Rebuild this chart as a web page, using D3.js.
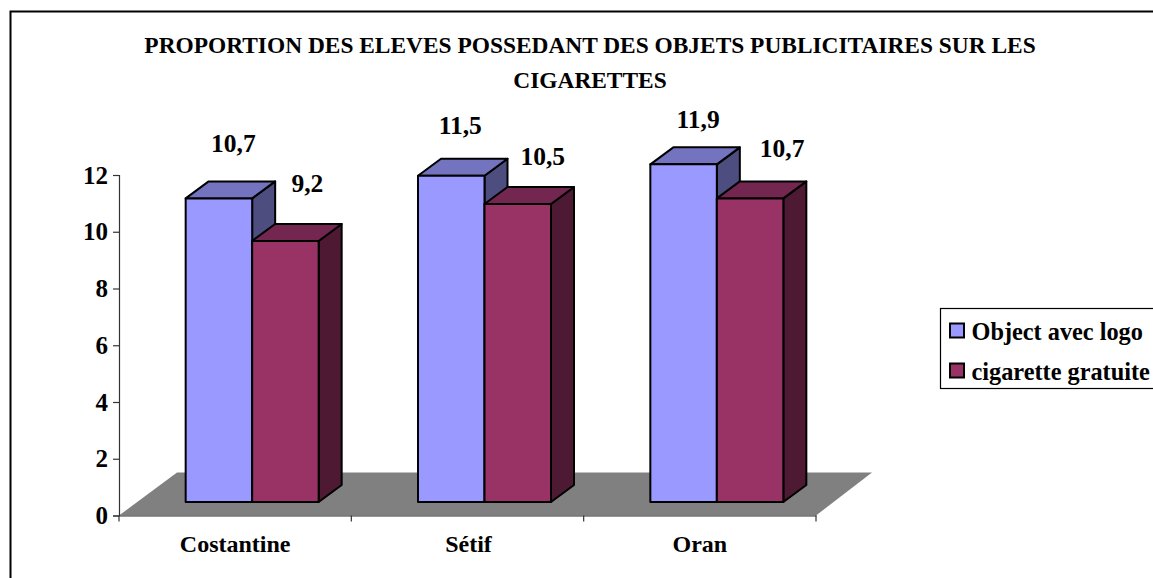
<!DOCTYPE html>
<html>
<head>
    <meta charset="utf-8">
    <title>Proportion des eleves</title>
    <script src="https://d3js.org/d3.v7.min.js"></script>
    <style>
        html, body { margin: 0; padding: 0; background: #fff; overflow: hidden; }
        text { font-family: "Liberation Serif", serif; font-weight: bold; fill: #000; }
    </style>
</head>
<body>
<script>
const titleLines = ['PROPORTION DES ELEVES POSSEDANT DES OBJETS PUBLICITAIRES SUR LES', 'CIGARETTES'];
const categories = ['Costantine', 'Sétif', 'Oran'];
const seriesNames = ['Object avec logo', 'cigarette gratuite'];
const objectAvecLogo = [10.7, 11.5, 11.9];
const cigaretteGratuite = [9.2, 10.5, 10.7];
const valueTicks = [0, 2, 4, 6, 8, 10, 12];

// the data labels were dragged by hand in the original, so each one has its own nudge
const labelNudge = [
    [[14.5, -46], [22, -49]],
    [[9, -42], [25, -39]],
    [[14.5, -36], [32, -41]]
];
const catLabelNudge = [0, 1, 0];

const width = 1153, height = 578;
const axisLeft = 119, axisRight = 816, axisBottom = 515.5, axisTop = 175;
const floorDx = 58, floorDy = 43;      // depth of the floor
const barShiftX = 17, barShiftY = 13.5; // bars stand this far back on the floor
const depthX = 23, depthY = 17;        // depth of a bar

const colors = [
    { front: '#9999ff', top: '#7373bf', side: '#4d4d80' },
    { front: '#993366', top: '#732650', side: '#4d1933' }
];

const svg = d3.select('body')
    .append('svg')
    .attr('width', width)
    .attr('height', height)
    .style('display', 'block');

// outer frame, it runs off the page on the right and bottom
svg.append('path')
    .attr('d', `M10.5,${height + 5}V11.5H${width + 5}`)
    .attr('fill', 'none')
    .attr('stroke', '#000')
    .attr('stroke-width', 2);

const title = svg.append('text')
    .attr('text-anchor', 'middle')
    .style('font-size', '23.4px');
titleLines.forEach((line, i) => {
    title.append('tspan')
        .attr('x', 590)
        .attr('y', 53 + i * 35)
        .text(line);
});

const xScale = d3.scaleBand()
    .domain(categories)
    .range([axisLeft, axisRight]);

const yScale = d3.scaleLinear()
    .domain([0, 12])
    .range([axisBottom, axisTop]);

const seriesScale = d3.scaleBand()
    .domain(seriesNames)
    .range([0, 133]);

// floor
svg.append('path')
    .attr('d', `M${axisLeft},${axisBottom}L${axisLeft + floorDx},${axisBottom - floorDy}H${axisRight + floorDx - 2}L${axisRight},${axisBottom}Z`)
    .attr('fill', '#808080');

const yAxis = d3.axisLeft(yScale)
    .tickValues(valueTicks)
    .tickSize(6)
    .tickPadding(5);

const yG = svg.append('g')
    .attr('transform', `translate(${axisLeft},0)`)
    .call(yAxis);
yG.selectAll('path, line').attr('stroke', '#333').attr('stroke-width', 1.2);
yG.selectAll('text').style('font-size', '25px');
yG.attr('font-family', null);

const xAxis = d3.axisBottom(xScale).tickSize(0).tickPadding(19.5);
const xG = svg.append('g')
    .attr('transform', `translate(0,${axisBottom})`)
    .call(xAxis);
xG.select('.domain').attr('stroke', '#333').attr('stroke-width', 1.2);
xG.selectAll('text')
    .style('font-size', '24px')
    .attr('dx', (d, i) => catLabelNudge[i]);
xG.attr('font-family', null);

// band edge ticks under the axis
svg.selectAll('.band-tick')
    .data([...categories.map(c => xScale(c)), axisRight])
    .enter()
    .append('line')
    .attr('class', 'band-tick')
    .attr('x1', d => d)
    .attr('x2', d => d)
    .attr('y1', axisBottom)
    .attr('y2', axisBottom + 6)
    .attr('stroke', '#333')
    .attr('stroke-width', 1.2);

const seriesValues = [objectAvecLogo, cigaretteGratuite];
const baseY = axisBottom - barShiftY;

function barFrame(c, i) {
    const bw = seriesScale.bandwidth();
    const groupLeft = xScale(c) + (xScale.bandwidth() - 133) / 2 + barShiftX;
    const x0 = groupLeft + seriesScale(seriesNames[i]);
    return { x0, x1: x0 + bw, top: yScale(seriesValues[i][categories.indexOf(c)]) - barShiftY };
}

// draw per category, left bar then right bar, so the overlaps come out right
categories.forEach((c, ci) => {
    seriesNames.forEach((name, si) => {
        const f = barFrame(c, si);
        const g = svg.append('g')
            .attr('stroke', '#000')
            .attr('stroke-width', 2)
            .attr('stroke-linejoin', 'round');
        g.append('path')
            .attr('d', `M${f.x1},${f.top}L${f.x1 + depthX},${f.top - depthY}V${baseY - depthY}L${f.x1},${baseY}Z`)
            .attr('fill', colors[si].side);
        g.append('path')
            .attr('d', `M${f.x0},${f.top}L${f.x0 + depthX},${f.top - depthY}H${f.x1 + depthX}L${f.x1},${f.top}Z`)
            .attr('fill', colors[si].top);
        g.append('rect')
            .attr('x', f.x0)
            .attr('y', f.top)
            .attr('width', f.x1 - f.x0)
            .attr('height', baseY - f.top)
            .attr('fill', colors[si].front);
    });
});

// data labels, comma decimal as in the original
categories.forEach((c, ci) => {
    seriesNames.forEach((name, si) => {
        const f = barFrame(c, si);
        const nudge = labelNudge[ci][si];
        svg.append('text')
            .attr('x', (f.x0 + f.x1) / 2 + nudge[0])
            .attr('y', f.top + nudge[1])
            .attr('text-anchor', 'middle')
            .style('font-size', '25.5px')
            .text(String(seriesValues[si][ci].toFixed(1)).replace('.', ','));
    });
});

// legend
const legend = svg.append('g').attr('transform', 'translate(940.5,308.5)');
legend.append('rect')
    .attr('width', 240)
    .attr('height', 80)
    .attr('fill', '#fff')
    .attr('stroke', '#000')
    .attr('stroke-width', 1.2);
seriesNames.forEach((name, i) => {
    legend.append('rect')
        .attr('x', 9.5)
        .attr('y', 15 + i * 40)
        .attr('width', 14)
        .attr('height', 14)
        .attr('fill', colors[i].front)
        .attr('stroke', '#000')
        .attr('stroke-width', 2);
    legend.append('text')
        .attr('x', 31)
        .attr('y', 31 + i * 40)
        .style('font-size', '24.3px')
        .text(name);
});
</script>
</body>
</html>
